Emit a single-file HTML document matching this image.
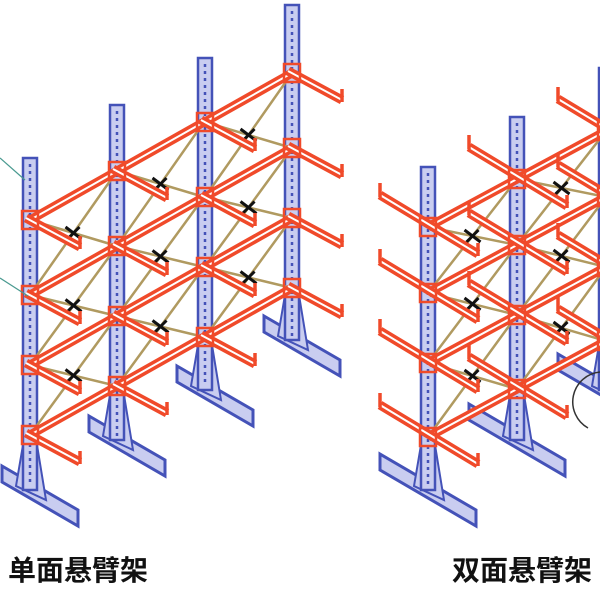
<!DOCTYPE html>
<html><head><meta charset="utf-8"><style>
html,body{margin:0;padding:0;background:#fff;width:600px;height:600px;overflow:hidden}
svg{position:absolute;left:0;top:0}
.lbl{position:absolute;font-family:"Liberation Sans","Noto Sans CJK SC",sans-serif;font-weight:bold;font-size:28px;color:#111;line-height:1}
</style></head><body>
<svg id="s" width="600" height="600" viewBox="0 0 600 600"></svg>
<div class="lbl" style="left:8px;top:557px">单面悬臂架</div>
<div class="lbl" style="left:452px;top:557px">双面悬臂架</div>
<script>
var s=document.getElementById('s'),h='';
function L(x1,y1,x2,y2,c,w,extra){h+='<line x1="'+x1+'" y1="'+y1+'" x2="'+x2+'" y2="'+y2+'" stroke="'+c+'" stroke-width="'+w+'" '+(extra||'')+' stroke-linecap="butt"/>';}
function red(x1,y1,x2,y2){L(x1,y1,x2,y2,'#f04a2a',9);L(x1,y1,x2,y2,'#fff',2);}
function brace(x1,y1,x2,y2){L(x1,y1,x2,y2,'#b09a60',2.5);}
function col(x,top,bot){
 h+='<rect x="'+(x-7)+'" y="'+top+'" width="14" height="'+(bot-top)+'" fill="#c9cdf0" stroke="#4452b8" stroke-width="2.5"/>';
 L(x,top+6,x,bot-4,'#4452b8',2.5,'stroke-dasharray="3 4"');
}
function base(x,b,twoSide){
 var ax=twoSide?-48:-28, ay=twoSide?-28:-16;
 var p=[[x+ax,b+ay-8],[x+48,b+20],[x+48,b+36],[x+ax,b+ay+8]];
 h+='<polygon points="'+p.map(function(q){return q.join(',')}).join(' ')+'" fill="#c9cdf0" stroke="#4452b8" stroke-width="3"/>';
 h+='<polygon points="'+(x-7)+','+(b-45)+' '+(x+7)+','+(b-45)+' '+(x+16)+','+(b+10)+' '+(x-14)+','+(b-4)+'" fill="#c9cdf0" stroke="#4452b8" stroke-width="2"/>';
}
var dx=87,dy=-49;
var lc=[[30,158,490],[117,105,440],[205,58,390],[292,5,340]];
var lv=[220,295,365,435];
for(var i=3;i>=0;i--){base(lc[i][0],lc[i][2],false);}
for(var i=3;i>=0;i--){col(lc[i][0],lc[i][1],lc[i][2]);}
for(var i=0;i<3;i++){
 var x=lc[i][0];
 for(var k=0;k<3;k++){
  var y=lv[k]+i*dy, y2=lv[k+1]+i*dy;
  brace(x,y2,x+dx,y+dy);brace(x,y,x+dx,y2+dy);
  var mx=x+dx/2,my=(y+y2)/2+dy/2;
  L(mx-8,my-6,mx+8,my+6,'#111',3);L(mx-6,my+6,mx+6,my-6,'#111',3);
 }
}
for(var i=0;i<4;i++){
 var x=lc[i][0];
 for(var k=0;k<4;k++){
  var y=lv[k]+i*dy;
  if(i<3){red(x,y,x+dx,y+dy);}
 }
}
for(var i=0;i<4;i++){
 var x=lc[i][0];
 for(var k=0;k<4;k++){
  var y=lv[k]+i*dy;
  red(x-4,y-2,x+50,y+27);
  h+='<rect x="'+(x-8)+'" y="'+(y-9)+'" width="16" height="18" fill="none" stroke="#f04a2a" stroke-width="2.5"/>';
  L(x+50,y+29,x+50,y+16,'#f04a2a',3.5);
 }
}
var rc=[[428,167,490],[517,117,440],[606,68,390]];
var rv=[227,293,363,437];
var rdx=89,rdy=-48;
for(var i=2;i>=0;i--){base(rc[i][0],rc[i][2],true);}
for(var i=2;i>=0;i--){col(rc[i][0],rc[i][1],rc[i][2]);}
for(var i=0;i<2;i++){
 var x=rc[i][0];
 for(var k=0;k<3;k++){
  var y=rv[k]+i*rdy, y2=rv[k+1]+i*rdy;
  brace(x,y2,x+rdx,y+rdy);brace(x,y,x+rdx,y2+rdy);
  var mx=x+rdx/2,my=(y+y2)/2+rdy/2;
  L(mx-8,my-6,mx+8,my+6,'#111',3);L(mx-6,my+6,mx+6,my-6,'#111',3);
 }
}
for(var i=0;i<3;i++){
 var x=rc[i][0];
 for(var k=0;k<4;k++){
  var y=rv[k]+i*rdy;
  red(x,y,x+rdx,y+rdy);
 }
}
for(var i=0;i<3;i++){
 var x=rc[i][0];
 for(var k=0;k<4;k++){
  var y=rv[k]+i*rdy;
  red(x-48,y-32,x+50,y+27);
  h+='<rect x="'+(x-8)+'" y="'+(y-9)+'" width="16" height="18" fill="none" stroke="#f04a2a" stroke-width="2.5"/>';
  L(x+50,y+29,x+50,y+16,'#f04a2a',3.5);
  L(x-48,y-30,x-48,y-44,'#f04a2a',3.5);
 }
}
L(0,158,25,180,'#4a9a90',1.2);L(0,278,28,296,'#4a9a90',1.2);
h+='<path d="M600,372 A30,30 0 0 0 588,428" fill="none" stroke="#333" stroke-width="1.5"/>';
s.innerHTML=h;
</script>
</body></html>
